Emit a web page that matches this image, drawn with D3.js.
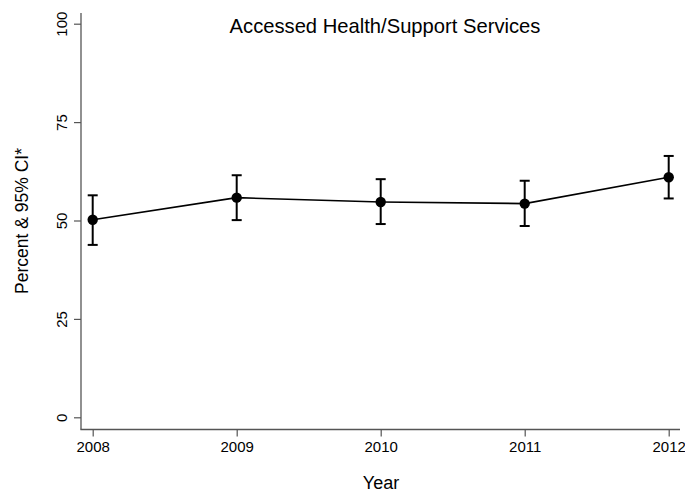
<!DOCTYPE html>
<html><head><meta charset="utf-8">
<script src="https://cdn.jsdelivr.net/npm/d3@7/dist/d3.min.js"></script>
<style>body{margin:0;background:#fff}svg{display:block}text{font-family:"Liberation Sans",Arial,sans-serif;fill:#000}</style>
</head><body><svg id="c" width="685" height="492"></svg>
<script>
const years = [2008, 2009, 2010, 2011, 2012];
const percent = [50.2, 55.8, 54.7, 54.3, 61.0];
const ciLow = [43.8, 50.1, 49.1, 48.6, 55.6];
const ciHigh = [56.4, 61.5, 60.5, 60.1, 66.4];
const yTicks = [0, 25, 50, 75, 100];
const title = "Accessed Health/Support Services";
const yTitle = "Percent & 95% CI*";
const xTitle = "Year";

const data = years.map((y, i) => ({year: y, v: percent[i], lo: ciLow[i], hi: ciHigh[i]}));
const svg = d3.select("#c");
const x = d3.scaleLinear().domain([2008, 2012]).range([92.7, 668.7]);
const y = d3.scaleLinear().domain([0, 100]).range([417.3, 23.7]);
const axisColor = "#555";

// axes lines
svg.append("line").attr("x1", 81).attr("x2", 81).attr("y1", 13).attr("y2", 429.5)
  .attr("stroke", axisColor).attr("stroke-width", 1.3);
svg.append("line").attr("x1", 80.4).attr("x2", 680).attr("y1", 429.5).attr("y2", 429.5)
  .attr("stroke", axisColor).attr("stroke-width", 1.3);

// y axis
const yAxis = d3.axisLeft(y).tickValues(yTicks).tickSize(7).tickPadding(6).tickFormat(d3.format("d"));
const gy = svg.append("g").attr("transform", "translate(81,0)").call(yAxis);
gy.select(".domain").remove();
gy.selectAll(".tick line").attr("stroke", axisColor).attr("stroke-width", 1.2);
gy.selectAll(".tick text").attr("font-size", 15).attr("fill", "#000")
  .attr("font-family", '"Liberation Sans", Arial, sans-serif')
  .attr("text-anchor", "middle").attr("transform", "rotate(-90)")
  .attr("x", 0).attr("y", -14).attr("dy", 0);

// x axis
const xAxis = d3.axisBottom(x).tickValues(years).tickSize(7).tickPadding(5).tickFormat(d3.format("d"));
const gx = svg.append("g").attr("transform", "translate(0,429.5)").call(xAxis);
gx.select(".domain").remove();
gx.selectAll(".tick line").attr("stroke", axisColor).attr("stroke-width", 1.2);
gx.selectAll(".tick text").attr("font-size", 15).attr("fill", "#000")
  .attr("font-family", '"Liberation Sans", Arial, sans-serif');

// error bars
const eb = svg.append("g");
eb.selectAll(".v").data(data).join("line")
  .attr("x1", d => x(d.year)).attr("x2", d => x(d.year))
  .attr("y1", d => y(d.lo)).attr("y2", d => y(d.hi))
  .attr("stroke", "#000").attr("stroke-width", 2);
eb.selectAll(".ct").data(data).join("line")
  .attr("x1", d => x(d.year) - 5).attr("x2", d => x(d.year) + 5)
  .attr("y1", d => y(d.hi)).attr("y2", d => y(d.hi))
  .attr("stroke", "#000").attr("stroke-width", 2);
eb.selectAll(".cb").data(data).join("line")
  .attr("x1", d => x(d.year) - 5).attr("x2", d => x(d.year) + 5)
  .attr("y1", d => y(d.lo)).attr("y2", d => y(d.lo))
  .attr("stroke", "#000").attr("stroke-width", 2);

// line
svg.append("path").datum(data)
  .attr("d", d3.line().x(d => x(d.year)).y(d => y(d.v)))
  .attr("fill", "none").attr("stroke", "#000").attr("stroke-width", 1.6);

// markers
svg.append("g").selectAll("circle").data(data).join("circle")
  .attr("cx", d => x(d.year)).attr("cy", d => y(d.v)).attr("r", 5.2).attr("fill", "#000");

// titles
svg.append("text").attr("x", 385).attr("y", 32.5).attr("text-anchor", "middle")
  .attr("font-size", 20.2).text(title);
svg.append("text").attr("transform", "translate(28,221) rotate(-90)").attr("text-anchor", "middle")
  .attr("font-size", 17.5).text(yTitle);
svg.append("text").attr("x", 381).attr("y", 489).attr("text-anchor", "middle")
  .attr("font-size", 18).text(xTitle);
</script></body></html>
